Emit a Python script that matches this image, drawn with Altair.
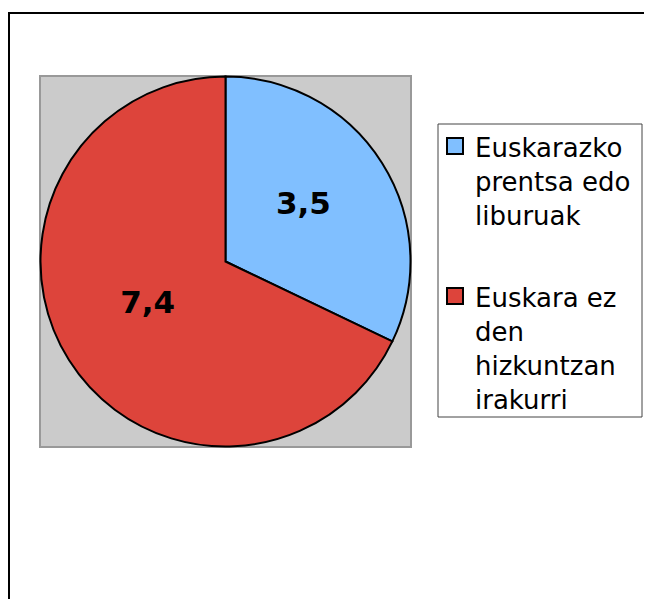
import altair as alt
import pandas as pd

# Data
categories = ["Euskarazko\nprentsa edo\nliburuak", "Euskara ez\nden\nhizkuntzan\nirakurri"]
values = [3.5, 7.4]
value_labels = ["3,5", "7,4"]
slice_order = [0, 1]
colors = ["#80bfff", "#dd443b"]

df = pd.DataFrame({"cat": categories, "value": values, "label": value_labels, "idx": slice_order})

W = 371
H = 371
color_scale = alt.Scale(domain=categories, range=colors)

base = alt.Chart(df).encode(
    theta=alt.Theta("value:Q", stack=True),
    order=alt.Order("idx:Q"),
)

plot_bg = alt.Chart(alt.Data(values=[{}])).mark_rect(
    fill="#cbcbcb", stroke="#999999", strokeWidth=2, clip=False
).encode(x=alt.value(0), x2=alt.value(W), y=alt.value(0), y2=alt.value(H))

arcs = base.mark_arc(outerRadius=185, stroke="black", strokeWidth=2).encode(
    color=alt.Color("cat:N", scale=color_scale, legend=None)
)

texts = base.mark_text(
    radius=92, dy=-7, font="DejaVu Sans", fontSize=31, fontWeight="bold", color="black"
).encode(text="label:N")

frame = alt.Chart(alt.Data(values=[{}])).mark_rect(
    fillOpacity=0, stroke="black", strokeWidth=2, clip=False
).encode(
    x=alt.value(-31), x2=alt.value(700), y=alt.value(-63), y2=alt.value(700)
)

# Manual legend
legend_box = alt.Chart(alt.Data(values=[{}])).mark_rect(
    fill="white", stroke="#444444", strokeWidth=1, clip=False
).encode(
    x=alt.value(398), x2=alt.value(602), y=alt.value(48), y2=alt.value(341)
)

legend_y = alt.Y(
    "cat:N",
    scale=alt.Scale(type="point", domain=categories, range=[70, 220], padding=0),
    axis=None,
)

legend_sym = alt.Chart(df).mark_square(
    size=256, filled=True, stroke="black", strokeWidth=2, opacity=1, clip=False
).encode(
    x=alt.value(415),
    y=legend_y,
    color=alt.Color("cat:N", scale=color_scale, legend=None),
)

legend_txt = alt.Chart(df).mark_text(
    align="left",
    baseline="alphabetic",
    dy=11,
    lineHeight=34,
    lineBreak="\n",
    font="DejaVu Sans",
    fontSize=26,
    color="black",
    clip=False,
).encode(x=alt.value(435), y=legend_y, text="cat:N")

chart = (
    alt.layer(frame, plot_bg, arcs, texts, legend_box, legend_sym, legend_txt)
    .properties(
        width=W,
        height=H,
        autosize=alt.AutoSizeParams(type="none"),
        padding={"left": 32, "top": 68, "right": 233, "bottom": 152},
        background="white",
    )
    .configure_view(strokeWidth=0)
)

chart.save("out.html", embed_options={"renderer": "svg", "actions": False})
